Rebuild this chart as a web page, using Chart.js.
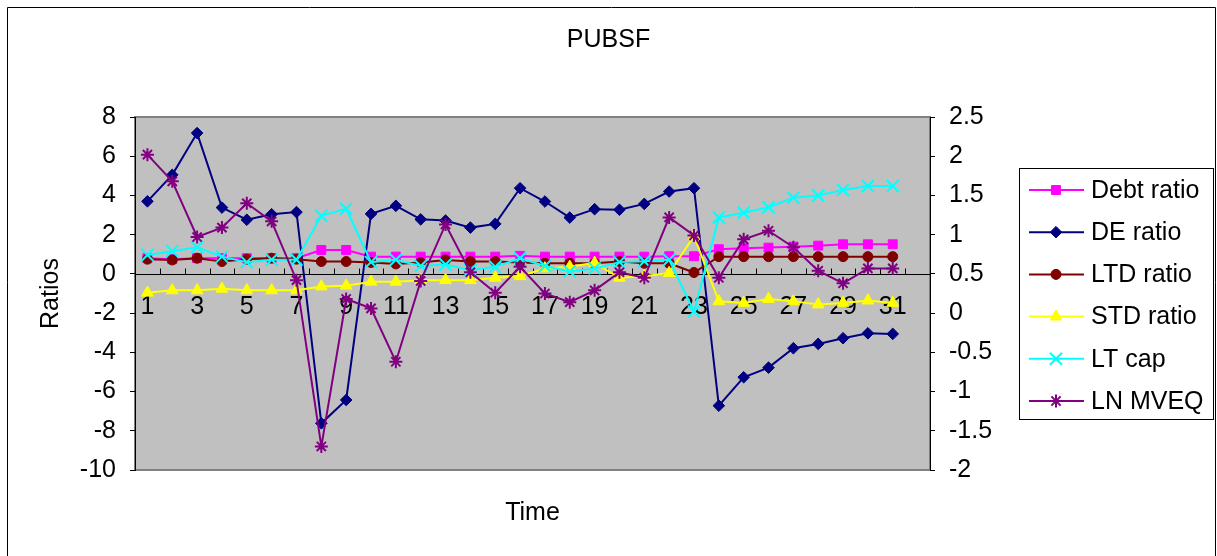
<!DOCTYPE html>
<html>
<head>
<meta charset="utf-8">
<script src="https://cdn.jsdelivr.net/npm/chart.js@4.4.1/dist/chart.umd.min.js"></script>
<style>
  body { margin: 0; background: #fff; }
  #wrap { width: 1217px; height: 556px; }
</style>
</head>
<body>
<div id="wrap"><canvas id="chart" width="1217" height="556"></canvas></div>
<script>
// periods on the x axis (32 slots, last one empty)
const periods = ['1','2','3','4','5','6','7','8','9','10','11','12','13','14','15','16',
  '17','18','19','20','21','22','23','24','25','26','27','28','29','30','31','32'];

// left axis (Ratios)
const debtRatio = [0.80,0.75,0.80,0.80,0.80,0.80,0.80,1.22,1.22,0.88,0.88,0.88,0.88,0.88,0.88,0.92,
  0.88,0.88,0.88,0.88,0.88,0.90,0.90,1.26,1.31,1.34,1.39,1.44,1.51,1.51,1.51,null];
const deRatio = [3.70,5.05,7.18,3.38,2.76,3.04,3.15,-7.62,-6.43,3.06,3.47,2.78,2.72,2.36,2.55,4.37,
  3.69,2.87,3.30,3.27,3.57,4.20,4.37,-6.72,-5.27,-4.78,-3.79,-3.57,-3.28,-3.03,-3.06,null];
const ltdRatio = [0.75,0.71,0.80,0.63,0.75,0.80,0.75,0.63,0.63,0.58,0.51,0.58,0.71,0.63,0.63,0.58,
  0.54,0.54,0.54,0.63,0.54,0.54,0.07,0.88,0.88,0.88,0.88,0.88,0.88,0.88,0.88,null];

// right axis
const stdRatio = [0.26,0.29,0.29,0.31,0.29,0.29,0.29,0.34,0.35,0.40,0.40,0.42,0.42,0.42,0.45,0.47,
  0.57,0.59,0.64,0.45,0.47,0.51,0.98,0.15,0.13,0.18,0.15,0.11,0.13,0.16,0.13,null];
const ltCap = [0.74,0.79,0.84,0.72,0.65,0.68,0.68,1.24,1.33,0.65,0.68,0.60,0.62,0.55,0.59,0.70,
  0.60,0.53,0.57,0.65,0.66,0.68,0.02,1.22,1.28,1.35,1.47,1.50,1.57,1.62,1.62,null];
const lnMveq = [2.02,1.68,0.97,1.09,1.40,1.17,0.42,-1.70,0.18,0.06,-0.62,0.41,1.13,0.52,0.26,0.59,
  0.25,0.14,0.29,0.52,0.45,1.22,0.99,0.45,0.94,1.05,0.84,0.54,0.38,0.57,0.57,null];

const FONT = { family: 'Liberation Sans, Arial, sans-serif', size: 25 };

function series(label, data, color, style, radius, axis, order, bw) {
  return {
    label, data, yAxisID: axis, order,
    borderColor: color, backgroundColor: color,
    borderWidth: 2, tension: 0,
    pointStyle: style, pointRadius: radius, pointHoverRadius: radius,
    pointBackgroundColor: color, pointBorderColor: color,
    pointBorderWidth: bw || 1
  };
}

const datasets = [
  series('Debt ratio', debtRatio, '#FF00FF', 'rect', 6.3, 'y', 6),
  series('DE ratio', deRatio, '#000080', 'rectRot', 5.8, 'y', 5),
  series('LTD ratio', ltdRatio, '#800000', 'circle', 5, 'y', 4),
  series('STD ratio', stdRatio, '#FFFF00', 'triangle', 6.8, 'y1', 3),
  series('LT cap', ltCap, '#00FFFF', 'crossRot', 8.5, 'y1', 2, 2),
  series('LN MVEQ', lnMveq, '#800080', 'star', 6.5, 'y1', 1, 2)
];

// grey plot area, frame and outer chart border
const plotBackground = {
  id: 'plotBackground',
  beforeDraw(chart) {
    const { ctx, chartArea: a } = chart;
    ctx.save();
    ctx.fillStyle = '#C0C0C0';
    ctx.fillRect(a.left, a.top, a.right - a.left, a.bottom - a.top);
    ctx.strokeStyle = '#808080';
    ctx.lineWidth = 2;
    ctx.strokeRect(a.left, a.top, a.right - a.left, a.bottom - a.top);
    ctx.strokeStyle = '#000';
    ctx.lineWidth = 1;
    ctx.beginPath();
    ctx.moveTo(7.5, 560); ctx.lineTo(7.5, 7.5); ctx.lineTo(1215.5, 7.5); ctx.lineTo(1215.5, 560);
    ctx.stroke();
    ctx.restore();
  }
};

// small tick marks on the category axis, pointing up from the zero line
const categoryTicks = {
  id: 'categoryTicks',
  beforeDatasetsDraw(chart) {
    const { ctx, scales: { x, y } } = chart;
    const y0 = Math.round(y.getPixelForValue(0)) + 0.5;
    const step = x.width / periods.length;
    ctx.save();
    ctx.strokeStyle = '#000';
    ctx.lineWidth = 1;
    ctx.beginPath();
    for (let i = 0; i <= periods.length; i++) {
      const px = Math.round(x.left + i * step) + 0.5;
      ctx.moveTo(px, y0);
      ctx.lineTo(px, y0 - 6);
    }
    ctx.moveTo(x.left, y0);
    ctx.lineTo(x.right, y0);
    ctx.stroke();
    ctx.restore();
  }
};

// boxed legend with line + marker, like the spreadsheet one
const boxLegend = {
  id: 'boxLegend',
  afterDraw(chart) {
    const { ctx } = chart;
    const bx = 1019.5, by = 168.5, bw = 194, bh = 251;
    ctx.save();
    ctx.strokeStyle = '#000';
    ctx.lineWidth = 1;
    ctx.strokeRect(bx, by, bw, bh);
    ctx.font = `${FONT.size}px ${FONT.family}`;
    ctx.textBaseline = 'middle';
    chart.data.datasets.forEach((ds, i) => {
      const cy = 190 + i * 42.2;
      ctx.strokeStyle = ds.borderColor;
      ctx.lineWidth = 2;
      ctx.beginPath();
      ctx.moveTo(1029, cy);
      ctx.lineTo(1084, cy);
      ctx.stroke();
      ctx.fillStyle = ds.pointBackgroundColor;
      ctx.strokeStyle = ds.pointBorderColor;
      ctx.lineWidth = ds.pointBorderWidth;
      Chart.helpers.drawPoint(ctx, { pointStyle: ds.pointStyle, radius: ds.pointRadius, borderWidth: ds.pointBorderWidth, rotation: 0 }, 1056, cy);
      ctx.fillStyle = '#000';
      ctx.fillText(ds.label, 1091, cy + 1);
    });
    ctx.restore();
  }
};

new Chart(document.getElementById('chart'), {
  type: 'line',
  data: { labels: periods, datasets },
  plugins: [plotBackground, categoryTicks, boxLegend],
  options: {
    responsive: false,
    animation: false,
    layout: { padding: 0 },
    plugins: {
      legend: { display: false },
      tooltip: { enabled: false },
      title: {
        display: true, text: 'PUBSF', color: '#000',
        font: { ...FONT, weight: 'normal' },
        padding: { top: 25, bottom: 62 }
      }
    },
    scales: {
      x: {
        type: 'category',
        position: { y: 0 },
        offset: true,
        afterFit: s => { s.height = 0; },
        grid: { display: false, drawTicks: false },
        border: { display: false },
        ticks: {
          color: '#000', font: FONT, padding: 18,
          autoSkip: false, maxRotation: 0, minRotation: 0,
          callback: (v, i) => (i % 2 === 0 && i < 31 ? periods[i] : '')
        }
      },
      xTitle: {
        type: 'category',
        position: 'bottom',
        afterFit: s => { s.height = 86; },
        grid: { display: false },
        border: { display: false },
        ticks: { display: false },
        title: { display: true, text: 'Time', color: '#000', font: FONT, padding: { top: 0, bottom: 28 } }
      },
      y: {
        position: 'left',
        min: -10, max: 8,
        afterFit: s => { s.width = 135; },
        grid: { drawOnChartArea: false, tickLength: 5, color: '#000', tickColor: '#000' },
        border: { color: '#000', width: 1 },
        ticks: { stepSize: 2, color: '#000', font: FONT, padding: 14 },
        title: { display: true, text: 'Ratios', color: '#000', font: FONT, padding: { top: 36, bottom: 0 } }
      },
      y1: {
        position: 'right',
        min: -2, max: 2.5,
        afterFit: s => { s.width = 287; },
        grid: { drawOnChartArea: false, tickLength: 5, color: '#000', tickColor: '#000' },
        border: { color: '#000', width: 1 },
        ticks: { stepSize: 0.5, color: '#000', font: FONT, padding: 14, callback: v => String(Number(v)) }
      }
    }
  }
});
</script>
</body>
</html>
